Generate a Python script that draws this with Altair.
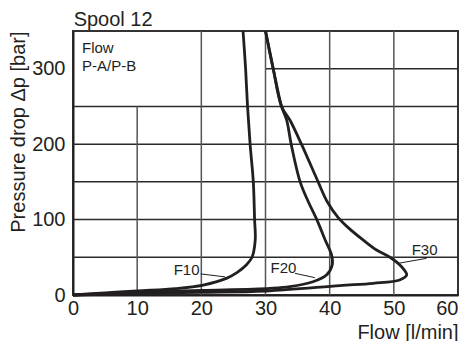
import altair as alt
import pandas as pd

# ---- data ----
f10_x = [0, 5, 10, 16, 20.3, 23.9, 25.6, 27.0, 27.9, 28.4, 28.3, 28.1, 27.6, 27.2, 26.9, 26.5]
f10_y = [0, 2.8, 5.5, 8.5, 13.2, 22, 30, 39.7, 50, 73, 100, 150, 200, 250, 300, 350]

f20_x = [0, 10, 20, 30.7, 33.8, 37.4, 39.5, 40.4, 40.3, 39.3, 38.0, 36.6, 35.4, 34.0, 33.3, 32.5, 31.2, 30.0]
f20_y = [0, 3.5, 6, 8.8, 11, 17.6, 26.5, 40, 53, 73, 100, 125, 150, 200, 232, 250, 300, 350]

f30_x = [0, 10, 20, 30, 41.6, 46.8, 50.9, 52.0, 51.2, 49.4, 47.3, 45.2, 42.8, 41.3, 39.6, 38.2, 35.6, 33.8, 32.5, 31.2, 30.0]
f30_y = [0, 2, 3.5, 5.3, 12.5, 15.5, 19.9, 26.5, 37.5, 50, 59.6, 73, 90, 103, 124, 150, 200, 232, 250, 300, 350]

series_names = ["F10", "F20", "F30"]
label_x = [17.7, 32.8, 54.8]
label_y = [33, 36.4, 59.6]
leader_x1 = [19.9, 34.6, 55.1]
leader_y1 = [28, 28.7, 48.6]
leader_x2 = [23.7, 37.7, 50.7]
leader_y2 = [24, 23, 42]

x_ticks = [0, 10, 20, 30, 40, 50, 60]
y_ticks = [0, 100, 200, 300]

# grid segments (irregular grid of the original)
h_grid_y = [50, 100, 150, 200, 250, 300]
h_grid_x1 = [0, 0, 0, 0, 0, 30]
h_grid_x2 = [60, 60, 60, 60, 60, 60]
v_grid_x = [10, 20, 30, 40, 50]
v_grid_y1 = [0, 0, 0, 0, 0]
v_grid_y2 = [250, 350, 350, 350, 350]

note_lines = ["Flow", "P-A/P-B"]
note_x = [1.4, 1.4]
note_y = [327, 303]

title_text = ["Spool 12"]
title_x = [0.1]
title_y = [356.5]

FONT = "Liberation Sans"
INK = "#231f20"

rows = []
for name, xs, ys in zip(series_names, [f10_x, f20_x, f30_x], [f10_y, f20_y, f30_y]):
    for i, (a, b) in enumerate(zip(xs, ys)):
        rows.append({"series": name, "flow": a, "dp": b, "idx": i})
curves = pd.DataFrame(rows)

hgrid = pd.DataFrame({"x": h_grid_x1, "x2": h_grid_x2, "y": h_grid_y})
vgrid = pd.DataFrame({"x": v_grid_x, "y": v_grid_y1, "y2": v_grid_y2})
labels = pd.DataFrame({"name": series_names, "x": label_x, "y": label_y})
leaders = pd.DataFrame({"x": leader_x1, "y": leader_y1, "x2": leader_x2, "y2": leader_y2})
notes = pd.DataFrame({"t": note_lines, "x": note_x, "y": note_y})
titles = pd.DataFrame({"t": title_text, "x": title_x, "y": title_y})

xs = alt.Scale(domain=[0, 60], nice=False, zero=False)
ys = alt.Scale(domain=[0, 350], nice=False, zero=False)

x_axis = alt.Axis(values=x_ticks, title="Flow [l/min]", grid=False, ticks=False,
                  labelFontSize=20, labelFont=FONT, labelColor=INK, labelPadding=3,
                  labelFlush=False,
                  labelAlign={"expr": "datum.value == 60 ? 'right' : 'center'"},
                  titleFontSize=20, titleFont=FONT, titleFontWeight="normal", titleColor=INK,
                  titleAnchor="end", titlePadding=4, domainColor=INK, domainWidth=2)
y_axis = alt.Axis(values=y_ticks, title="Pressure drop Δp [bar]", grid=False, ticks=False,
                  labelFontSize=20, labelFont=FONT, labelColor=INK, labelPadding=8,
                  labelFlush=False,
                  titleFontSize=20, titleFont=FONT, titleFontWeight="normal", titleColor=INK,
                  titleAnchor="end", titlePadding=3, domainColor=INK, domainWidth=2)

base_x = alt.X("x:Q", scale=xs, axis=x_axis)
base_y = alt.Y("y:Q", scale=ys, axis=y_axis)

h_layer = alt.Chart(hgrid).mark_rule(color="#2a2a2a", strokeWidth=1.5).encode(
    x=base_x, x2="x2:Q", y=base_y)
v_layer = alt.Chart(vgrid).mark_rule(color="#555555", strokeWidth=1.5).encode(
    x=base_x, y=base_y, y2="y2:Q")

curve_layer = alt.Chart(curves).mark_line(color=INK, strokeWidth=2.8, interpolate="catmull-rom").encode(
    x=alt.X("flow:Q", scale=xs, axis=x_axis),
    y=alt.Y("dp:Q", scale=ys, axis=y_axis),
    detail="series:N",
    order="idx:Q",
)

leader_layer = alt.Chart(leaders).mark_rule(color=INK, strokeWidth=1).encode(
    x=base_x, y=base_y, x2="x2:Q", y2="y2:Q")

label_layer = alt.Chart(labels).mark_text(font=FONT, fontSize=15, color=INK, align="center", baseline="middle").encode(
    x=base_x, y=base_y, text="name:N")

note_layer = alt.Chart(notes).mark_text(font=FONT, fontSize=15, color=INK, align="left", baseline="middle").encode(
    x=base_x, y=base_y, text="t:N")

title_layer = alt.Chart(titles).mark_text(font=FONT, fontSize=20, color=INK, align="left", baseline="alphabetic").encode(
    x=base_x, y=base_y, text="t:N")

chart = alt.layer(h_layer, v_layer, curve_layer, leader_layer, label_layer, note_layer, title_layer).properties(
    width=385, height=264,
    padding={"left": 65, "top": 23, "right": 3, "bottom": 46},
    autosize="none",
).configure_view(stroke="#333333", strokeWidth=2)

chart.save("out.html", embed_options={"renderer": "svg", "actions": False})
